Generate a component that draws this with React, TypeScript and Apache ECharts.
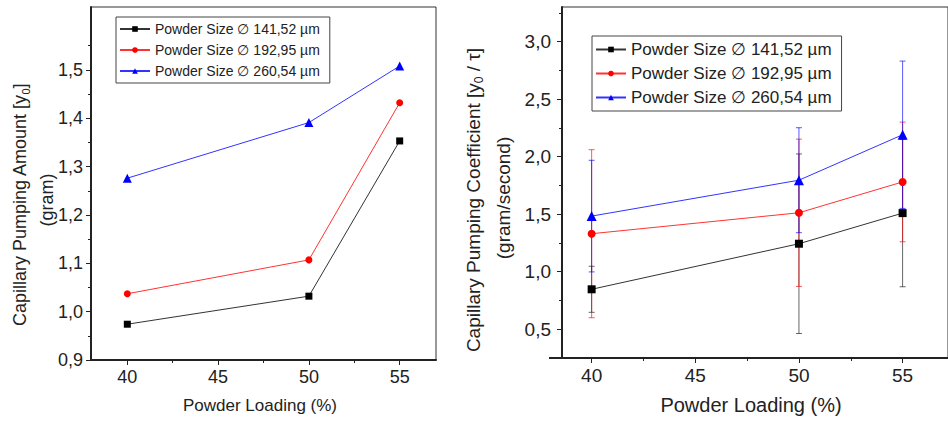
import React, { useEffect, useRef } from "react";
import * as echarts from "echarts";

// ---- data ----
const loading = [40, 50, 55];
const seriesNames = [
  "Powder Size ∅ 141,52 µm",
  "Powder Size ∅ 192,95 µm",
  "Powder Size ∅ 260,54 µm",
];
const amount141 = [0.974, 1.032, 1.353];
const amount192 = [1.037, 1.107, 1.432];
const amount260 = [1.276, 1.391, 1.508];
const coef141 = [0.847, 1.243, 1.509];
const coef192 = [1.33, 1.512, 1.78];
const coef260 = [1.483, 1.795, 2.19];
const coefErr141 = [0.2, 0.78, 0.64];
const coefErr192 = [0.73, 0.64, 0.52];
const coefErr260 = [0.485, 0.456, 0.64];
const xMajorTicks = [40, 45, 50, 55];
const xMinorTicks = [42.5, 47.5, 52.5];
const leftYMajor = [0.9, 1.0, 1.1, 1.2, 1.3, 1.4, 1.5];
const leftYMinor = [0.95, 1.05, 1.15, 1.25, 1.35, 1.45, 1.55];
const rightYMajor = [0.5, 1.0, 1.5, 2.0, 2.5, 3.0];
const rightYMinor = [0.75, 1.25, 1.75, 2.25, 2.75, 3.25];

const FONT = "'Liberation Sans', Arial, Helvetica, sans-serif";
const TXT = "#222";
const markerColors = ["#000000", "#ff0000", "#0000ff"];
const lineColors = ["#333333", "#ff3333", "#3333ff"];
const errColors = ["rgba(0,0,0,0.6)", "rgba(255,0,0,0.65)", "rgba(0,0,255,0.65)"];
const symbols = ["rect", "circle", "triangle"];

const fmt = (v: number) => v.toFixed(1).replace(".", ",");

function mainX(grid: number, min: number, max: number, fs: number) {
  return {
    type: "value",
    gridIndex: grid,
    min,
    max,
    position: "bottom",
    axisLine: { show: true, onZero: false, lineStyle: { color: "#222", width: 2 } },
    axisTick: { show: true, customValues: xMajorTicks, length: 5, inside: false, lineStyle: { color: "#222", width: 1 } },
    axisLabel: { show: true, customValues: xMajorTicks, fontSize: fs, fontFamily: FONT, color: TXT, margin: 8 },
    splitLine: { show: false },
  };
}
function minorX(grid: number, min: number, max: number) {
  return {
    type: "value",
    gridIndex: grid,
    min,
    max,
    position: "bottom",
    axisLine: { show: false, onZero: false },
    axisTick: { show: true, customValues: xMinorTicks, length: 3, lineStyle: { color: "#222", width: 1 } },
    axisLabel: { show: false },
    splitLine: { show: false },
  };
}
function mainY(grid: number, min: number, max: number, major: number[], fs: number, margin: number) {
  return {
    type: "value",
    gridIndex: grid,
    min,
    max,
    position: "left",
    axisLine: { show: true, onZero: false, lineStyle: { color: "#222", width: 2 } },
    axisTick: { show: true, customValues: major, length: 5, lineStyle: { color: "#222", width: 1 } },
    axisLabel: { show: true, customValues: major, fontSize: fs, fontFamily: FONT, color: TXT, margin, formatter: (v: number) => fmt(v) },
    splitLine: { show: false },
  };
}
function minorY(grid: number, min: number, max: number, minor: number[]) {
  return {
    type: "value",
    gridIndex: grid,
    min,
    max,
    position: "left",
    axisLine: { show: false, onZero: false },
    axisTick: { show: true, customValues: minor, length: 3, lineStyle: { color: "#222", width: 1 } },
    axisLabel: { show: false },
    splitLine: { show: false },
  };
}

function lineSeries(i: number, values: number[], axis: number, size: number) {
  return {
    type: "line",
    name: seriesNames[i],
    xAxisIndex: axis,
    yAxisIndex: axis,
    data: loading.map((x, k) => [x, values[k]]),
    symbol: symbols[i],
    symbolSize: i === 2 ? size + 2 : size,
    showSymbol: true,
    itemStyle: { color: markerColors[i], opacity: 1 },
    lineStyle: { color: lineColors[i], width: 1 },
    z: 5,
  };
}

function errSeries(i: number, values: number[], errs: number[]) {
  const color = errColors[i];
  return {
    type: "custom",
    name: "err" + i,
    xAxisIndex: 2,
    yAxisIndex: 2,
    data: loading.map((x, k) => [x, values[k], errs[k]]),
    encode: { x: 0, y: 1 },
    z: 3,
    clip: false,
    renderItem: (_p: any, api: any) => {
      const x = api.value(0);
      const y = api.value(1);
      const e = api.value(2);
      const t = api.coord([x, y + e]);
      const b = api.coord([x, y - e]);
      const hw = 3;
      const st = { stroke: color, lineWidth: 1 };
      return {
        type: "group",
        children: [
          { type: "line", shape: { x1: t[0], y1: t[1], x2: b[0], y2: b[1] }, style: st },
          { type: "line", shape: { x1: t[0] - hw, y1: t[1], x2: t[0] + hw, y2: t[1] }, style: st },
          { type: "line", shape: { x1: b[0] - hw, y1: b[1], x2: b[0] + hw, y2: b[1] }, style: st },
        ],
      };
    },
  };
}

function legend(left: number, top: number, fs: number, gap: number) {
  return {
    show: true,
    orient: "vertical",
    left,
    top,
    data: seriesNames,
    itemWidth: 30,
    itemHeight: 7,
    itemGap: gap,
    padding: [4, 10, 4, 3],
    borderColor: "#444",
    borderWidth: 1,
    backgroundColor: "#fff",
    selectedMode: false,
    textStyle: { fontSize: fs, fontFamily: FONT, color: TXT, lineHeight: fs + 2 },
  };
}

function rotTitle(x: number, y: number, text: string, fs: number) {
  return {
    type: "text",
    x,
    y,
    rotation: Math.PI / 2,
    style: {
      text,
      fontSize: fs,
      fontFamily: FONT,
      fill: TXT,
      align: "center",
      verticalAlign: "middle",
      lineHeight: fs + 4,
      rich: {
        sub: { fontSize: Math.round(fs * 0.62), fontFamily: FONT, fill: TXT, verticalAlign: "bottom", lineHeight: fs + 4, padding: [0, 0, 0, 0] },
      },
    },
  };
}

export default function App() {
  const ref = useRef<HTMLDivElement>(null);
  useEffect(() => {
    if (!ref.current) return;
    const chart = echarts.init(ref.current, null, { renderer: "svg" });
    const option: any = {
      animation: false,
      backgroundColor: "#fff",
      grid: [
        { left: 91, top: 7, width: 345, height: 353, show: true, borderColor: "#333", borderWidth: 1, containLabel: false },
        { left: 562, top: 7, width: 400, height: 351, show: true, borderColor: "#333", borderWidth: 1, containLabel: false },
      ],
      xAxis: [mainX(0, 38, 57, 18), minorX(0, 38, 57), mainX(1, 38.57, 57.19, 19), minorX(1, 38.57, 57.19)],
      yAxis: [
        mainY(0, 0.9, 1.63, leftYMajor, 18, 8),
        minorY(0, 0.9, 1.63, leftYMinor),
        mainY(1, 0.25, 3.3, rightYMajor, 19, 11),
        minorY(1, 0.25, 3.3, rightYMinor),
      ],
      legend: [legend(116, 17, 14, 5), legend(592, 36, 17, 5)],
      graphic: [
        rotTitle(20, 205, "Capillary Pumping Amount [y{sub|0}]", 18),
        rotTitle(47, 200, "(gram)", 18),
        rotTitle(473, 200, "Capillary Pumping Coefficient [y{sub|0} / τ]", 19),
        rotTitle(503, 198, "(gram/second)", 19),
        { type: "text", x: 260, y: 405, style: { text: "Powder Loading (%)", fontSize: 17, fontFamily: FONT, fill: TXT, align: "center", verticalAlign: "middle" } },
        { type: "text", x: 751, y: 405, style: { text: "Powder Loading (%)", fontSize: 20, fontFamily: FONT, fill: TXT, align: "center", verticalAlign: "middle" } },
        { type: "line", shape: { x1: 549, y1: 358, x2: 562, y2: 358 }, style: { stroke: "#222", lineWidth: 2 } },
      ],
      series: [
        lineSeries(0, amount141, 0, 7),
        lineSeries(1, amount192, 0, 7),
        lineSeries(2, amount260, 0, 7),
        errSeries(0, coef141, coefErr141),
        errSeries(1, coef192, coefErr192),
        errSeries(2, coef260, coefErr260),
        lineSeries(0, coef141, 2, 8),
        lineSeries(1, coef192, 2, 8),
        lineSeries(2, coef260, 2, 8),
      ],
    };
    chart.setOption(option);
    return () => chart.dispose();
  }, []);
  return (
    <div
      ref={ref}
      style={{ position: "fixed", left: 0, top: 0, width: 948, height: 422, background: "#fff" }}
    />
  );
}
